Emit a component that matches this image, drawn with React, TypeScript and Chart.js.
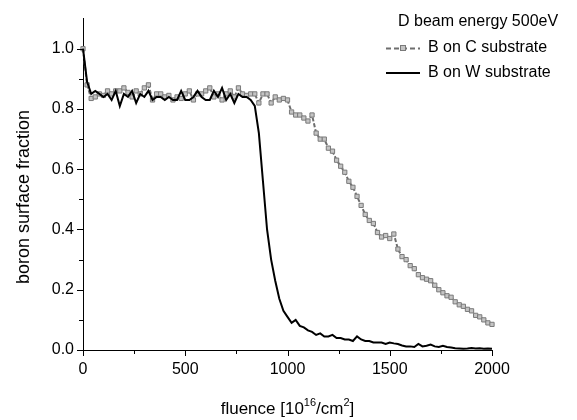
import React, { useEffect, useRef } from "react";
import { Chart, registerables } from "chart.js";

Chart.register(...registerables);

// fluence grid step (10^16/cm^2)
const STEP = 20;

// B on W substrate (black line)
const W_VALUES = [
  1.0, 0.89, 0.85, 0.86, 0.85, 0.84, 0.85, 0.83, 0.86, 0.81,
  0.85, 0.84, 0.86, 0.82, 0.85, 0.84, 0.86, 0.83, 0.84, 0.84,
  0.83, 0.84, 0.83, 0.83, 0.86, 0.83, 0.83, 0.84, 0.86, 0.84,
  0.83, 0.83, 0.86, 0.84, 0.87, 0.83, 0.85, 0.82, 0.85, 0.84,
  0.84, 0.83, 0.81, 0.72, 0.56, 0.4, 0.3, 0.23, 0.17, 0.13,
  0.11, 0.09, 0.1, 0.08, 0.075, 0.065, 0.06, 0.05, 0.055, 0.045,
  0.045, 0.05, 0.04, 0.04, 0.035, 0.035, 0.03, 0.045, 0.035, 0.03,
  0.03, 0.025, 0.025, 0.025, 0.02, 0.025, 0.022, 0.02, 0.015, 0.012,
  0.012, 0.01, 0.02, 0.012, 0.014, 0.018, 0.012, 0.01, 0.014, 0.01,
  0.008, 0.006, 0.005, 0.004, 0.005, 0.007, 0.005, 0.006, 0.004, 0.005,
  0.004,
];

// B on C substrate (grey squares, dashed)
const C_VALUES = [
  1.0, 0.88, 0.835, 0.84, 0.85, 0.845, 0.86, 0.85, 0.86, 0.86,
  0.87, 0.855, 0.84, 0.86, 0.85, 0.87, 0.88, 0.83, 0.85, 0.85,
  0.84, 0.845, 0.83, 0.84, 0.835, 0.85, 0.86, 0.83, 0.85, 0.85,
  0.86, 0.87, 0.84, 0.85, 0.83, 0.85, 0.86, 0.84, 0.87, 0.85,
  0.845, 0.85, 0.85, 0.82, 0.85, 0.85, 0.82, 0.84, 0.83, 0.835,
  0.83, 0.79, 0.78, 0.78, 0.77, 0.76, 0.78, 0.72, 0.7, 0.7,
  0.67, 0.66, 0.63, 0.61, 0.59, 0.56, 0.54, 0.51, 0.48, 0.45,
  0.43, 0.42, 0.39, 0.375, 0.38, 0.37, 0.385, 0.335, 0.31, 0.3,
  0.28, 0.27, 0.25, 0.24, 0.235, 0.23, 0.215, 0.2, 0.19, 0.18,
  0.175, 0.16, 0.15, 0.145, 0.135, 0.13, 0.115, 0.11, 0.1, 0.09,
  0.085,
];

const X_MAJOR = [0, 500, 1000, 1500, 2000];
const X_MINOR = [250, 750, 1250, 1750];
const Y_MAJOR = [0, 0.2, 0.4, 0.6, 0.8, 1.0];
const Y_MINOR = [0.1, 0.3, 0.5, 0.7, 0.9];

const LEGEND_TITLE = "D beam energy 500eV";
const LABEL_C = "B on C substrate";
const LABEL_W = "B on W substrate";
const Y_TITLE = "boron surface fraction";

const FONT = '"Liberation Sans", Arial, sans-serif';
const C_LINE = "#6e6e6e";
const C_FILL = "#c4c4c4";
const C_EDGE = "#7a7a7a";

const toPoints = (vals: number[]) => vals.map((v, i) => ({ x: i * STEP, y: v }));

const decor = {
  id: "decor",
  afterDraw(chart: any) {
    const ctx = chart.ctx as CanvasRenderingContext2D;
    const xs = chart.scales.x;
    const ys = chart.scales.y;
    ctx.save();
    ctx.strokeStyle = "#000";
    ctx.lineWidth = 1;
    const xTick = (v: number, len: number) => {
      const px = Math.round(xs.getPixelForValue(v)) + 0.5;
      ctx.beginPath();
      ctx.moveTo(px, ys.bottom);
      ctx.lineTo(px, ys.bottom + len);
      ctx.stroke();
    };
    const yTick = (v: number, len: number) => {
      const py = Math.round(ys.getPixelForValue(v)) + 0.5;
      ctx.beginPath();
      ctx.moveTo(xs.left, py);
      ctx.lineTo(xs.left - len, py);
      ctx.stroke();
    };
    X_MAJOR.forEach((v) => xTick(v, 6));
    X_MINOR.forEach((v) => xTick(v, 4));
    Y_MAJOR.forEach((v) => yTick(v, 6));
    Y_MINOR.forEach((v) => yTick(v, 4));

    // axis titles
    ctx.fillStyle = "#000";
    ctx.textBaseline = "alphabetic";
    const cx = (xs.left + xs.right) / 2;
    const base = 414;
    const parts: [string, boolean][] = [
      ["fluence [10", false],
      ["16", true],
      ["/cm", false],
      ["2", true],
      ["]", false],
    ];
    const big = `17px ${FONT}`;
    const small = `11px ${FONT}`;
    let total = 0;
    parts.forEach(([t, sup]) => {
      ctx.font = sup ? small : big;
      total += ctx.measureText(t).width;
    });
    let x = cx - total / 2;
    ctx.textAlign = "left";
    parts.forEach(([t, sup]) => {
      ctx.font = sup ? small : big;
      ctx.fillText(t, x, sup ? base - 8 : base);
      x += ctx.measureText(t).width;
    });

    ctx.save();
    ctx.translate(29, 197);
    ctx.rotate(-Math.PI / 2);
    ctx.font = `18px ${FONT}`;
    ctx.textAlign = "center";
    ctx.fillText(Y_TITLE, 0, 0);
    ctx.restore();

    // legend
    ctx.font = `16px ${FONT}`;
    ctx.textAlign = "left";
    ctx.textBaseline = "middle";
    ctx.fillText(LEGEND_TITLE, 398, 22);
    ctx.fillText(LABEL_C, 428, 48);
    ctx.fillText(LABEL_W, 428, 73);

    ctx.strokeStyle = C_LINE;
    ctx.lineWidth = 2;
    ctx.setLineDash([5, 3]);
    ctx.beginPath();
    ctx.moveTo(386, 48.5);
    ctx.lineTo(420, 48.5);
    ctx.stroke();
    ctx.setLineDash([]);
    ctx.fillStyle = C_FILL;
    ctx.strokeStyle = C_EDGE;
    ctx.lineWidth = 1;
    ctx.fillRect(400.5, 45.5, 5, 5);
    ctx.strokeRect(400.5, 45.5, 5, 5);

    ctx.strokeStyle = "#000";
    ctx.lineWidth = 2;
    ctx.beginPath();
    ctx.moveTo(386, 73);
    ctx.lineTo(420, 73);
    ctx.stroke();
    ctx.restore();
  },
};

export default function App() {
  const ref = useRef<HTMLCanvasElement | null>(null);
  useEffect(() => {
    if (!ref.current) return;
    const chart = new Chart(ref.current, {
      type: "line",
      data: {
        datasets: [
          {
            label: LABEL_W,
            data: toPoints(W_VALUES),
            borderColor: "#000",
            borderWidth: 2,
            pointRadius: 0,
            tension: 0,
            clip: false as any,
          },
          {
            label: LABEL_C,
            data: toPoints(C_VALUES),
            borderColor: C_LINE,
            borderWidth: 2,
            borderDash: [4, 2],
            pointStyle: "rect",
            pointRadius: 3,
            pointBorderWidth: 1,
            pointBackgroundColor: C_FILL,
            pointBorderColor: C_EDGE,
            tension: 0,
            clip: false as any,
          },
        ],
      },
      options: {
        responsive: false,
        animation: false,
        devicePixelRatio: 1,
        layout: { padding: { left: 0, right: 85, top: 8, bottom: 0 } },
        plugins: { legend: { display: false }, tooltip: { enabled: false } },
        scales: {
          x: {
            type: "linear",
            min: 0,
            max: 2000,
            grid: { display: false, drawTicks: false },
            border: { display: true, color: "#000", width: 1 },
            afterBuildTicks: (s: any) => {
              s.ticks = X_MAJOR.map((v) => ({ value: v }));
            },
            afterFit: (s: any) => {
              s.height = 70;
            },
            ticks: {
              padding: 10,
              color: "#000",
              font: { family: FONT, size: 16 },
              maxRotation: 0,
              autoSkip: false,
              callback: (v: any) => String(v),
            },
          },
          y: {
            type: "linear",
            min: 0,
            max: 1.1,
            grid: { display: false, drawTicks: false },
            border: { display: true, color: "#000", width: 1 },
            afterBuildTicks: (s: any) => {
              s.ticks = Y_MAJOR.map((v) => ({ value: v }));
            },
            afterFit: (s: any) => {
              s.width = 83;
            },
            ticks: {
              padding: 9,
              color: "#000",
              font: { family: FONT, size: 16 },
              callback: (v: any) => Number(v).toFixed(1),
            },
          },
        },
      },
      plugins: [decor],
    });
    return () => chart.destroy();
  }, []);
  return (
    <canvas
      ref={ref}
      width={577}
      height={420}
      style={{ position: "absolute", left: 0, top: 0 }}
    />
  );
}
